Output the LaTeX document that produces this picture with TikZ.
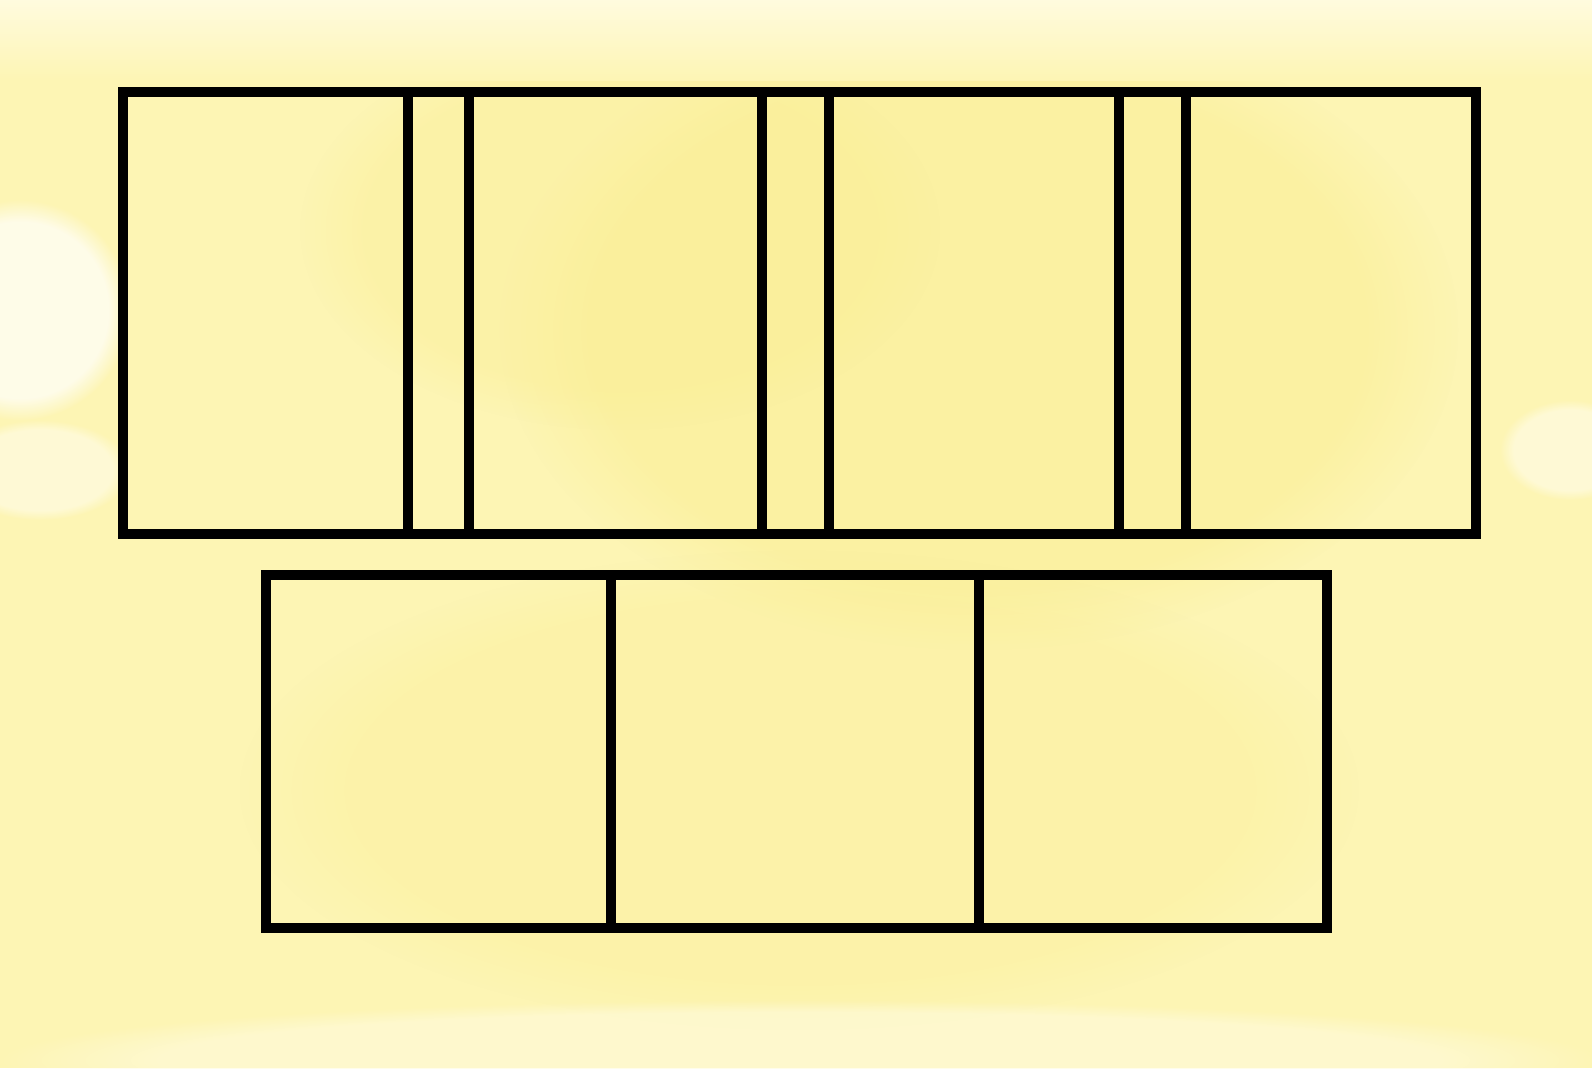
\documentclass[tikz,border=0pt]{standalone}
\usetikzlibrary{fadings}
\begin{document}
\begin{tikzpicture}[x=1pt,y=-1pt,
  frame/.style={draw=black,line width=10pt,line join=miter},
  blob/.style={fill=#1,path fading=circle with fuzzy edge 20 percent}]
\definecolor{paper}{RGB}{253,245,180}
\definecolor{deep}{RGB}{250,238,145}
\definecolor{pale}{RGB}{255,251,222}
\useasboundingbox (0,0) rectangle (1592,1068);
\fill[paper] (0,0) rectangle (1592,1068);
% watercolour tone variations (soft edges)
\fill[blob=deep,opacity=0.5] (980,330) ellipse (480 and 320);
\fill[blob=deep,opacity=0.35] (620,230) ellipse (320 and 200);
\fill[blob=deep,opacity=0.3] (800,790) ellipse (560 and 240);
\shade[top color=pale,bottom color=paper] (0,0) rectangle (1592,80);
\fill[blob=white,opacity=0.7] (20,310) ellipse (110 and 110);
\fill[blob=pale,opacity=0.8] (40,470) ellipse (90 and 50);
\fill[blob=pale,opacity=0.8] (1570,450) ellipse (70 and 50);
\fill[blob=pale,opacity=0.6] (800,1060) ellipse (800 and 60);
% top strip
\draw[frame] (123,92) rectangle (1476,534);
\foreach \x in {407.5,469,762,829,1119,1186}
  \draw[frame] (\x,92) -- (\x,534);
% bottom strip
\draw[frame] (266,575) rectangle (1327,928);
\foreach \x in {611,979}
  \draw[frame] (\x,575) -- (\x,928);
\end{tikzpicture}
\end{document}
